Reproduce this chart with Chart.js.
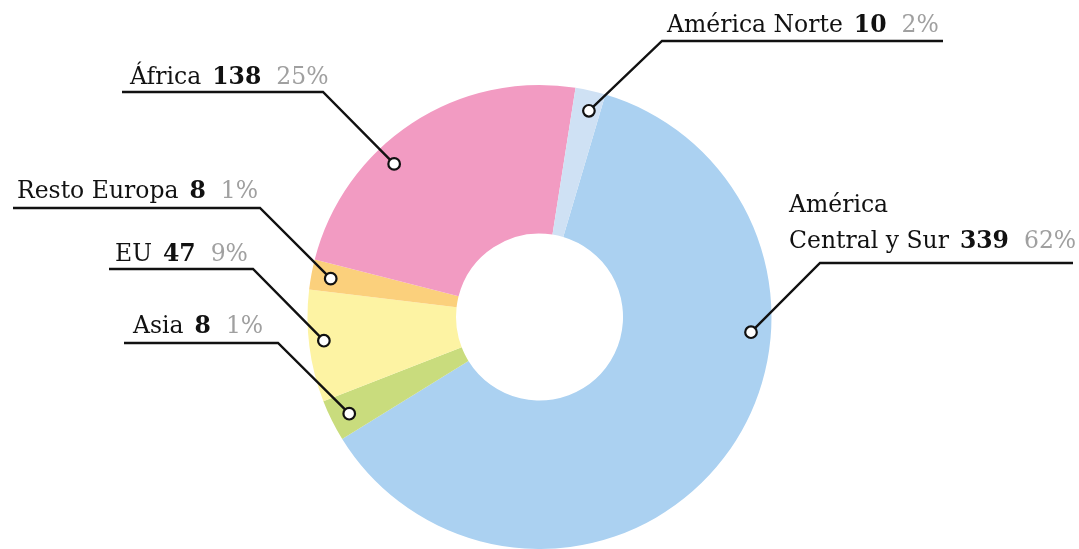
<!DOCTYPE html>
<html>
<head>
<meta charset="utf-8">
<script src="https://cdn.jsdelivr.net/npm/chart.js@4.4.1/dist/chart.umd.min.js"></script>
<style>
  html, body { margin: 0; padding: 0; background: #ffffff; }
  #wrap { position: relative; width: 1079px; height: 549px; }
</style>
</head>
<body>
<div id="wrap"><canvas id="c"></canvas></div>
<script>
// ---- data ----
const categories = ['América Central y Sur', 'Asia', 'EU', 'Resto Europa', 'África', 'América Norte'];
const values = [339, 8, 47, 8, 138, 10];
const percentLabels = ['62%', '1%', '9%', '1%', '25%', '2%'];
// slice sizes as drawn in the picture (share of the ring, %)
const sliceShares = [61.6, 2.9, 7.8, 2.1, 23.5, 2.1];
const sliceColors = ['#abd1f1', '#c9dc7d', '#fdf3a3', '#fbd07c', '#f29bc2', '#cfe1f4'];

// ---- label layout (annotation placement) ----
const labelLayout = [
  { lines: ['América', 'Central y Sur'], textX: 789, baseY: 248, lineGap: 36, elbow: [820, 263], end: 1073, dotFrac: 0.35, dotR: 0.914 },
  { lines: ['Asia'], textX: 133, baseY: 333, elbow: [278, 343], end: 124, dotFrac: 0.46, dotR: 0.92 },
  { lines: ['EU'], textX: 115, baseY: 261, elbow: [253, 269], end: 109, dotFrac: 0.535, dotR: 0.935 },
  { lines: ['Resto Europa'], textX: 17, baseY: 198, elbow: [260, 208], end: 13, dotFrac: 0.48, dotR: 0.915 },
  { lines: ['África'], textX: 130, baseY: 84, elbow: [323, 92], end: 122, dotFrac: 0.38, dotR: 0.91 },
  { lines: ['América Norte'], textX: 667, baseY: 32, elbow: [662, 41], end: 943, dotFrac: 0.6, dotR: 0.914 }
];

const FONT_FAMILY = '"DejaVu Serif", serif';
const FONT_SIZE = 23.5;

const labelPlugin = {
  id: 'leaderLabels',
  afterDatasetsDraw(chart) {
    const ctx = chart.ctx;
    const meta = chart.getDatasetMeta(0);
    ctx.save();
    const dots = [];
    meta.data.forEach((arc, i) => {
      const L = labelLayout[i];
      const p = arc.getProps(['x', 'y', 'startAngle', 'endAngle', 'outerRadius'], true);
      const a = p.startAngle + L.dotFrac * (p.endAngle - p.startAngle);
      const r = p.outerRadius * L.dotR;
      const dx = p.x + Math.cos(a) * r;
      const dy = p.y + Math.sin(a) * r;
      dots.push([dx, dy]);
      ctx.beginPath();
      ctx.strokeStyle = '#111111';
      ctx.lineWidth = 2.4;
      ctx.lineJoin = 'miter';
      ctx.moveTo(dx, dy);
      ctx.lineTo(L.elbow[0], L.elbow[1]);
      ctx.lineTo(L.end, L.elbow[1]);
      ctx.stroke();
    });
    dots.forEach(([x, y]) => {
      ctx.beginPath();
      ctx.arc(x, y, 5.8, 0, Math.PI * 2);
      ctx.fillStyle = '#ffffff';
      ctx.fill();
      ctx.lineWidth = 2.2;
      ctx.strokeStyle = '#111111';
      ctx.stroke();
    });
    ctx.textBaseline = 'alphabetic';
    ctx.textAlign = 'left';
    labelLayout.forEach((L, i) => {
      const n = L.lines.length;
      const gap = L.lineGap || 0;
      for (let k = 0; k < n; k++) {
        const y = L.baseY - (n - 1 - k) * gap;
        ctx.font = `${FONT_SIZE}px ${FONT_FAMILY}`;
        ctx.fillStyle = '#111111';
        ctx.fillText(L.lines[k], L.textX, y);
        if (k === n - 1) {
          let x = L.textX + ctx.measureText(L.lines[k]).width + 11;
          ctx.font = `bold ${FONT_SIZE}px ${FONT_FAMILY}`;
          ctx.fillText(String(values[i]), x, y);
          x += ctx.measureText(String(values[i])).width + 15;
          ctx.font = `${FONT_SIZE}px ${FONT_FAMILY}`;
          ctx.fillStyle = '#a0a0a0';
          ctx.fillText(percentLabels[i], x, y);
        }
      }
    });
    ctx.restore();
  }
};

new Chart(document.getElementById('c'), {
  type: 'doughnut',
  data: {
    labels: categories,
    datasets: [{
      data: sliceShares,
      backgroundColor: sliceColors,
      borderWidth: 0,
      hoverOffset: 0
    }]
  },
  options: {
    responsive: true,
    maintainAspectRatio: false,
    animation: false,
    rotation: 16.5,
    cutout: '36%',
    layout: { padding: { top: 85, bottom: 0, left: 0, right: 0 } },
    plugins: {
      legend: { display: false },
      tooltip: { enabled: false }
    },
    events: []
  },
  plugins: [labelPlugin]
});
</script>
</body>
</html>
